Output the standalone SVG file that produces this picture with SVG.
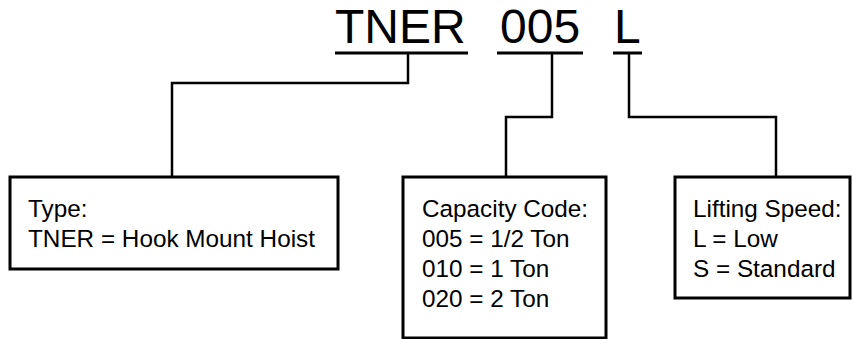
<svg xmlns="http://www.w3.org/2000/svg" width="852" height="339" viewBox="0 0 852 339">
<style>
.title{font-family:"Liberation Sans",Arial,Helvetica,sans-serif;font-size:48px;fill:#000}
.lbl{font-family:"Liberation Sans",Arial,Helvetica,sans-serif;font-size:24.3px;fill:#000}
.ul{stroke:#000;stroke-width:3;fill:none}
.box{fill:#fff;stroke:#000;stroke-width:3}
.conn{stroke:#000;stroke-width:2.5;fill:none;stroke-linejoin:miter;stroke-linecap:square}
</style>
<rect width="852" height="339" fill="#fff"/>
<g id="code">
<text class="title" x="335" y="43">TNER</text>
<text class="title" x="500" y="43">005</text>
<text class="title" x="614" y="43">L</text>
<line class="ul" x1="335" y1="53" x2="468" y2="53"/>
<line class="ul" x1="497" y1="53" x2="583" y2="53"/>
<line class="ul" x1="613" y1="53" x2="642" y2="53"/>
</g>
<g id="connectors">
<polyline class="conn" points="408,54 408,83 172,83 172,177"/>
<polyline class="conn" points="552,54 552,117 506,117 506,177"/>
<polyline class="conn" points="629,54 629,117 776,117 776,177"/>
</g>
<g id="type">
<rect class="box" x="10" y="177" width="328" height="92"/>
<text class="lbl" x="28" y="217">Type:</text>
<text class="lbl" x="28" y="247">TNER = Hook Mount Hoist</text>
</g>
<g id="capacity">
<rect class="box" x="403" y="177" width="203" height="161"/>
<text class="lbl" x="422" y="217">Capacity Code:</text>
<text class="lbl" x="422" y="247">005 = 1/2 Ton</text>
<text class="lbl" x="422" y="277">010 = 1 Ton</text>
<text class="lbl" x="422" y="307">020 = 2 Ton</text>
</g>
<g id="speed">
<rect class="box" x="675" y="177" width="175" height="121"/>
<text class="lbl" x="693" y="217">Lifting Speed:</text>
<text class="lbl" x="693" y="247">L = Low</text>
<text class="lbl" x="693" y="277">S = Standard</text>
</g>
</svg>
